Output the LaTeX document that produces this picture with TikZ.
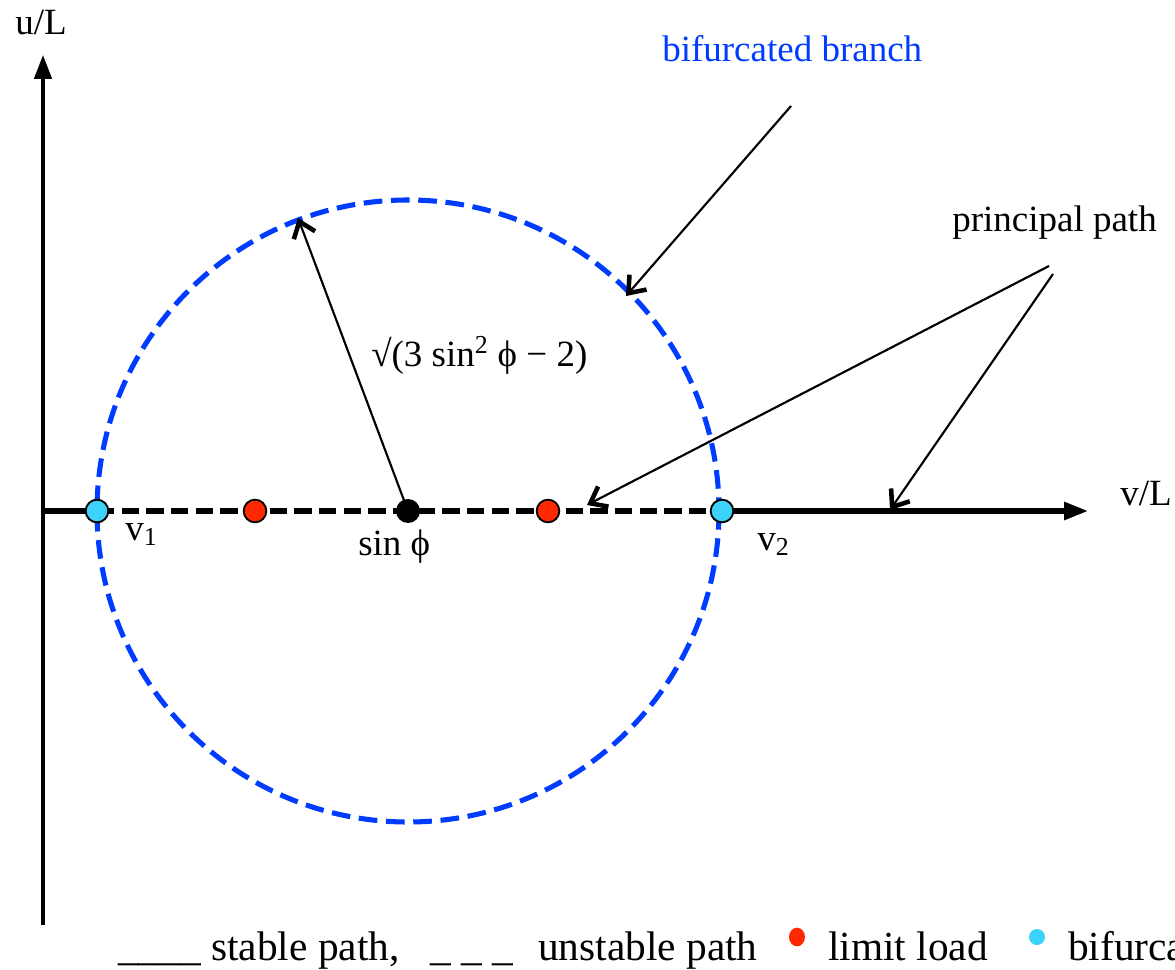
\documentclass[tikz,border=0pt]{standalone}
\usepackage{fontspec}
\setmainfont{Liberation Serif}
\usetikzlibrary{arrows.meta,shapes.geometric}
\definecolor{cblue}{RGB}{0,60,255}
\definecolor{cred}{RGB}{255,40,0}
\definecolor{ccyan}{RGB}{60,210,250}
\begin{document}
\begin{tikzpicture}[x=0.75pt,y=-0.75pt,
  axis/.style={line width=2.8pt,-{Triangle[length=18pt,width=13pt]}},
  stablepath/.style={line width=3.8pt},
  unstablepath/.style={line width=3.8pt, dash pattern=on 13pt off 5.5pt},
  branch/.style={draw=cblue, line width=3.8pt, dash pattern=on 14pt off 6.5pt},
  pt/.style={circle, draw=black, line width=1.4pt, minimum size=17pt, inner sep=0pt},
  lbl/.style={font=\fontsize{27.75}{30}\selectfont, inner sep=0pt, anchor=base west},
  leg/.style={font=\fontsize{31}{34}\selectfont, inner sep=0pt, anchor=base west},
  ann/.style={line width=1.6pt, -{Straight Barb[length=11pt,width=17pt,line width=3.4pt]}}]
\useasboundingbox (0,0) rectangle (1175,970);
\clip (0,0) rectangle (1175,970);
% coordinates
\coordinate (O) at (43,511);
\coordinate (Ytop) at (43,55);
\coordinate (Ybot) at (43,925);
\coordinate (Xend) at (1088,511);
\coordinate (C0) at (408,511);
\coordinate (Rt) at (298,218);
\coordinate (bbs) at (791,106);
\coordinate (bbe) at (626,296);
\coordinate (pp1s) at (1049,266);
\coordinate (pp1e) at (587,505);
\coordinate (pp2s) at (1053,274);
\coordinate (pp2e) at (890,510);
% bifurcated branch circle
\draw[branch] (C0) circle[radius=311];
% axes
\draw[axis] (Ybot) -- (Ytop);
\coordinate (v1c) at (97,511);
\coordinate (v2c) at (722,511);
\draw[stablepath] (O) -- (v1c);
\draw[unstablepath] (v1c) -- (v2c);
\draw[stablepath, -{Triangle[length=18pt,width=13pt]}] (v2c) -- (Xend);
% points
\node[pt, fill=ccyan] (v1) at (v1c) {};
\node[pt, fill=ccyan] (v2) at (v2c) {};
\node[pt, fill=cred] (l1) at (255,511) {};
\node[pt, fill=cred] (l2) at (548,511) {};
\node[circle, fill=black, minimum size=18pt, inner sep=0pt] (C) at (C0) {};
% radius
\draw[ann] (C.center) -- (Rt);
% annotation arrows
\draw[ann] (bbs) -- (bbe);
\draw[ann] (pp1s) -- (pp1e);
\draw[ann] (pp2s) -- (pp2e);
% labels
\node[lbl] (uL) at (15,35) {u/L};
\node[lbl] (vL) at (1120,505) {v/L};
\node[lbl] (rad) at (371,366) {√(3 sin\textsuperscript{2} ϕ − 2)};
\node[lbl] (sinphi) at (358,555) {sin ϕ};
\node[lbl] (v1l) at (125,540) {v\textsubscript{1}};
\node[lbl] (v2l) at (757,550) {v\textsubscript{2}};
\node[lbl, text=cblue] (bb) at (662,62) {bifurcated branch};
\node[lbl] (pp) at (952,232) {principal path};
% legend
\node[leg] (lg1) at (118,960) {\_\_\_\_ stable path,};
\node[leg] (lg2) at (430,960) {\_ \_ \_};
\node[leg] (lg3) at (538,960) {unstable path};
\node[ellipse, fill=cred, minimum width=12pt, minimum height=14pt, inner sep=0pt] (ld) at (797,937) {};
\node[leg] (lg4) at (828,960) {limit load};
\node[circle, fill=ccyan, minimum size=12pt, inner sep=0pt] (bd) at (1037,937) {};
\node[leg] (lg5) at (1068,960) {bifurcation point};
\end{tikzpicture}
\end{document}
